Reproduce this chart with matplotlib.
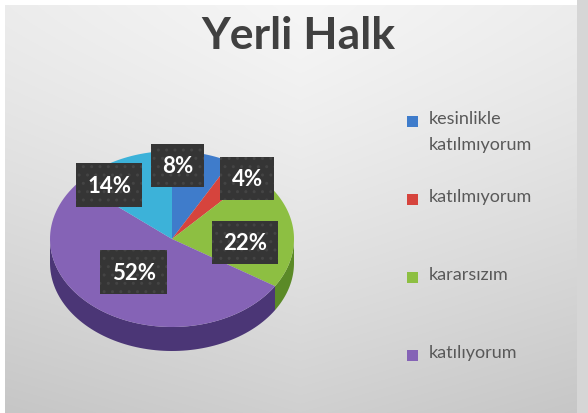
import numpy as np
import matplotlib.pyplot as plt
from matplotlib.patches import Polygon, Rectangle

# veriler
labels = ['kesinlikle katılmıyorum', 'katılmıyorum', 'kararsızım', 'katılıyorum',
          'kesinlikle katılıyorum']
values = [8, 4, 22, 52, 14]
legend_labels = ['kesinlikle\nkatılmıyorum', 'katılmıyorum', 'kararsızım', 'katılıyorum']
title = 'Yerli Halk'

top_colors = ['#3f7ccb', '#d6443d', '#8dbf42', '#8563b6', '#3cb2d9']
side_colors = ['#2b5a96', '#9a2e2a', '#5b8a27', '#4b3676', '#2a7f9c']

# pasta geometrisi (piksel)
cx, cy = 172, 240
ra, rb = 122, 88
depth = 24
# etiket yerleri: (açı, yarıçap oranı)
label_pos = [(3, 0.84), (42, 0.92), (94, 0.6), (220, 0.49), (320, 0.8)]

plt.rcParams['font.family'] = ['Lato', 'DejaVu Sans']

fig = plt.figure(figsize=(5.88, 4.14), dpi=100)
ax = fig.add_axes([0, 0, 1, 1])
ax.set_xlim(0, 588)
ax.set_ylim(414, 0)
ax.axis('off')

# arka plan
yy, xx = np.mgrid[0:414, 0:588]
bg = 0.965 - 0.15 * (yy / 414) ** 1.3 - 0.04 * np.abs(xx - 300) / 300
bg[:6, :] = 1.0
bg[:, :5] = 1.0
bg[:, 577:] = 0.84
ax.imshow(np.dstack([bg, bg, bg]), extent=(0, 588, 414, 0), aspect='auto', zorder=0)


def arc(t0, t1, dy=0, n=80):
    t = np.radians(np.linspace(t0, t1, n))
    return np.column_stack([cx + ra * np.sin(t), cy - rb * np.cos(t) + dy])


bounds = np.concatenate([[0], np.cumsum(values)]) / sum(values) * 360

# yan yüzler
for i in range(len(values)):
    t0, t1 = max(bounds[i], 90), min(bounds[i + 1], 270)
    if t1 <= t0:
        continue
    pts = np.vstack([arc(t0, t1), arc(t1, t0, depth)])
    ax.add_patch(Polygon(pts, closed=True, fc=side_colors[i], ec='none', zorder=2))

# üst yüzler
for i in range(len(values)):
    pts = np.vstack([[cx, cy], arc(bounds[i], bounds[i + 1])])
    ax.add_patch(Polygon(pts, closed=True, fc=top_colors[i], ec='none', zorder=3))

# etiketler
for v, (ang, r) in zip(values, label_pos):
    t = np.radians(ang)
    x = cx + r * ra * np.sin(t)
    y = cy - r * rb * np.cos(t)
    ax.text(x, y, f'{v}%', ha='center', va='center', color='white', fontsize=16,
            fontweight='bold', zorder=5,
            bbox=dict(boxstyle='square,pad=0.5', fc='#353535', ec='#444444',
                      lw=0, hatch='..'))

# başlık
ax.text(298, 36, title, ha='center', va='center', fontsize=32, fontweight='bold',
        color='#404040', zorder=5)

# lejant
leg_top, leg_step = 122, 78
for i, lab in enumerate(legend_labels):
    y = leg_top + i * leg_step
    ax.add_patch(Rectangle((407, y - 5.5), 11, 11, fc=top_colors[i], ec='none', zorder=5))
    ax.text(429, y - 11, lab, ha='left', va='top', fontsize=13, color='#595959',
            linespacing=1.75, zorder=5)

fig.savefig('out.png', dpi=100)
